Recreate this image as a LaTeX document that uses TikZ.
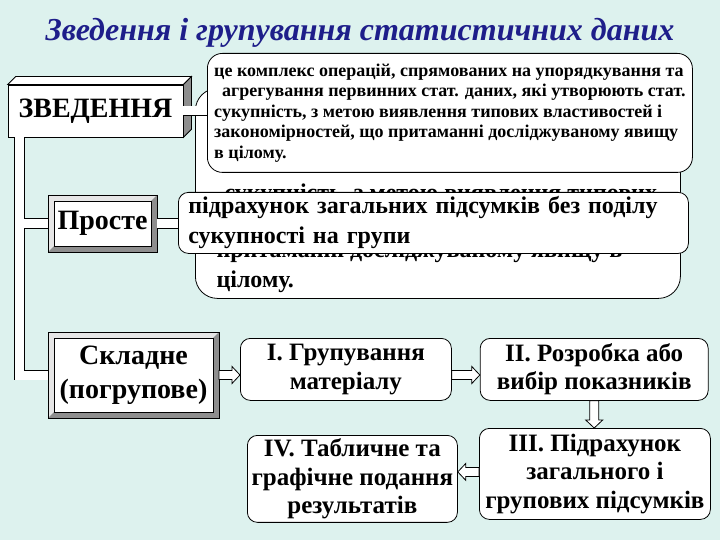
\documentclass[tikz,border=0pt]{standalone}
\usepackage{fontspec}
\setmainfont{Liberation Serif}
\usetikzlibrary{positioning,calc}
\definecolor{sheet}{HTML}{DDF2EE}
\definecolor{navy}{HTML}{1E1E8A}
\definecolor{bevlight}{HTML}{E6E6E6}
\definecolor{bevdark}{HTML}{8E8E8E}
\newcommand\fsz[2]{\fontsize{#1}{#2}\selectfont\bfseries}
% bevelled frame round a node whose outer sep is the bevel width
\newcommand\bevelframe[2]{%
  \fill[bevlight] (#1.north west) -- (#1.north east) -- ([shift={(-#2,#2)}]#1.north east) -- ([shift={(#2,#2)}]#1.north west) -- ([shift={(#2,-#2)}]#1.south west) -- (#1.south west) -- cycle;
  \fill[bevdark] (#1.north east) -- (#1.south east) -- (#1.south west) -- ([shift={(#2,-#2)}]#1.south west) -- ([shift={(-#2,-#2)}]#1.south east) -- ([shift={(-#2,#2)}]#1.north east) -- cycle;
  \draw[line width=0.8pt] (#1.north west) rectangle (#1.south east) ([shift={(#2,#2)}]#1.north west) rectangle ([shift={(-#2,-#2)}]#1.south east);}

\begin{document}
\begin{tikzpicture}[x=1pt,y=-1pt,
face/.style={draw,fill=white,line width=0.8pt,inner sep=0pt,align=center,font=\fsz{28}{34}},
bevel/.style={face,outer sep=6pt},
note/.style={draw,fill=white,line width=0.8pt,align=left,anchor=north west},
stage/.style={draw,fill=white,line width=0.8pt,rounded corners=10pt,align=center,font=\fsz{25}{28.5},minimum height=62pt},
pipe/.style={draw=black,line width=0.9pt,double=white,double distance=9pt,line join=miter},
hollow/.style={draw,fill=white,line width=0.8pt,to path={
  ($(\tikztostart)!4.5pt!90:(\tikztotarget)$)
  -- ($(\tikztotarget)!8pt!(\tikztostart)!4.5pt!90:(\tikztotarget)$)
  -- ($(\tikztotarget)!8pt!(\tikztostart)!8.5pt!90:(\tikztotarget)$)
  -- (\tikztotarget)
  -- ($(\tikztotarget)!8pt!(\tikztostart)!8.5pt!-90:(\tikztotarget)$)
  -- ($(\tikztotarget)!8pt!(\tikztostart)!4.5pt!-90:(\tikztotarget)$)
  -- ($(\tikztostart)!4.5pt!-90:(\tikztotarget)$) -- cycle}}]
\fill[sheet] (0,0) rectangle (720,540);
\node[font=\fsz{32}{38}\itshape,text=navy,anchor=base] (title) at (360,41) {Зведення і групування статистичних даних};
% the earlier definition box, mostly covered
\node[note,rounded corners=22pt,minimum width=485pt,minimum height=210pt] (old) at (195,88) {};
\node[font=\fsz{24}{30},anchor=base west] (old1) at (221,201) {сукупність, з метою виявлення типових};
\node[font=\fsz{24}{30},anchor=base west] (old2) at (213,257) {притаманні досліджуваному явищу в};
\node[font=\fsz{24}{30},anchor=base west] (old3) at (213,287) {цілому.};
\node[note,rounded corners=15pt,minimum width=485pt,minimum height=119pt,font=\fsz{18}{20.5}] (defn) at (207,53) {це комплекс операцій, спрямованих на упорядкування та\\\hspace*{8pt}агрегування первинних стат. даних, які утворюють стат.\\сукупність, з метою виявлення типових властивостей і\\закономірностей, що притаманні досліджуваному явищу\\в цілому.};
\node[note,rounded corners=10pt,minimum width=510pt,minimum height=61pt,text width=490pt,inner xsep=10pt,font=\fsz{24}{30}] (prost) at (178,192) {підрахунок загальних підсумків без поділу\\сукупності на групи};
% left column
\node[face,minimum width=175pt,minimum height=52pt] (zv) at (95.5,111) {ЗВЕДЕННЯ};
\draw[fill=white,line width=0.8pt] (zv.north west) -- ++(8,-8) -- ([shift={(8,-8)}]zv.north east) -- (zv.north east) -- cycle;
\draw[fill=bevdark,line width=0.8pt] (zv.north east) -- ++(8,-8) -- ([shift={(8,-8)}]zv.south east) -- (zv.south east) -- cycle;
\node[bevel,minimum width=97pt,minimum height=45pt] (pr) at (102.5,223.5) {Просте};
\bevelframe{pr}{6}
\node[bevel,minimum width=159pt,minimum height=74pt] (sk) at (133.5,375) {Складне\\(погрупове)};
\bevelframe{sk}{6}
\coordinate (trunk) at ([xshift=12pt]zv.south west);
\draw[pipe] (trunk) |- (sk.west) (trunk |- pr.west) -- (pr.west) (pr.east) -- (pr.east -| prost.west);
\draw[pipe] (zv.east) -- (zv.east -| defn.west);
% stages
\node[stage,minimum width=211pt,anchor=north west] (g1) at (240,338) {I. Групування\\матеріалу};
\node[stage,minimum width=228pt,right=28pt of g1] (g2) {II. Розробка або\\вибір показників};
\node[stage,minimum width=231pt,minimum height=91pt,anchor=north west] (g3) at (479,428) {III. Підрахунок\\загального і\\групових підсумків};
\node[stage,minimum width=210pt,minimum height=84pt,anchor=north west] (g4) at (247,435) {IV. Табличне та\\графічне подання\\результатів};
\coordinate (c3) at ([yshift=2pt]g3.west);
\draw[hollow] (sk.east) to (sk.east -| g1.west);
\draw[hollow] (g1.east |- sk.east) to (g2.west |- sk.east);
\draw[hollow] (g2.south) to (g2.south |- g3.north);
\draw[hollow] (c3) to (c3 -| g4.east);
\end{tikzpicture}
\end{document}
